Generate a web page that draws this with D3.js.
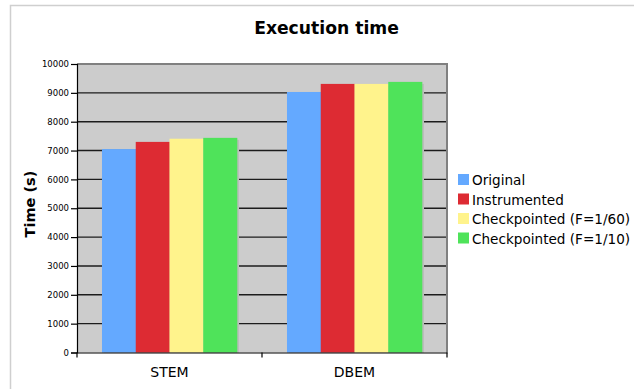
<!DOCTYPE html>
<html>
<head>
<meta charset="utf-8">
<script src="https://cdn.jsdelivr.net/npm/d3@7"></script>
<style>
  body { margin: 0; background: #fff; }
  svg { display: block; font-family: "DejaVu Sans", Verdana, sans-serif; }
</style>
</head>
<body>
<div id="chart"></div>
<script>
const categories = ['STEM', 'DBEM'];
const seriesNames = ['Original', 'Instrumented', 'Checkpointed (F=1/60)', 'Checkpointed (F=1/10)'];
const seriesColors = ['#64a9ff', '#dd2b33', '#fff38c', '#4fe35a'];
// values per series, in category order
const original = [7050, 9030];
const instrumented = [7300, 9310];
const checkpointed60 = [7410, 9310];
const checkpointed10 = [7440, 9380];
const yTicks = [0, 1000, 2000, 3000, 4000, 5000, 6000, 7000, 8000, 9000, 10000];

const seriesValues = [original, instrumented, checkpointed60, checkpointed10];

const width = 634;
const height = 389;
const marginTop = 64;
const marginRight = 187;
const marginBottom = 36.5;
const marginLeft = 77;

const svg = d3.select('#chart')
    .append('svg')
    .attr('width', width)
    .attr('height', height);

// outer chart frame (only top and left visible)
svg.append('path')
    .attr('d', `M10.5,${height} V5.5 H${width}`)
    .attr('fill', 'none')
    .attr('stroke', '#cfcfcf')
    .attr('stroke-width', 1.5);

// title
svg.append('text')
    .attr('x', 326.5)
    .attr('y', 34)
    .attr('text-anchor', 'middle')
    .attr('font-size', 17.2)
    .attr('font-weight', 'bold')
    .text('Execution time');

// scales
const x0 = d3.scaleBand()
    .domain(categories)
    .range([marginLeft, width - marginRight])
    .paddingInner(0)
    .paddingOuter(0);

const x1 = d3.scaleBand()
    .domain(seriesNames)
    .range([0, x0.bandwidth()])
    .paddingInner(0)
    .paddingOuter(0.74);

const y = d3.scaleLinear()
    .domain([0, 10000])
    .range([height - marginBottom, marginTop]);

// plot background
svg.append('rect')
    .attr('x', marginLeft)
    .attr('y', y(10000))
    .attr('width', x0.range()[1] - marginLeft)
    .attr('height', y(0) - y(10000))
    .attr('fill', '#cccccc');

// gridlines
svg.append('g')
    .selectAll('line')
    .data(yTicks.filter(d => d > 0 && d < 10000))
    .join('line')
    .attr('x1', marginLeft)
    .attr('x2', x0.range()[1])
    .attr('y1', d => y(d))
    .attr('y2', d => y(d))
    .attr('stroke', '#1c1c1c')
    .attr('stroke-width', 1.4);

// top / right border of plot area
svg.append('path')
    .attr('d', `M${marginLeft},${y(10000)} H${x0.range()[1]} V${y(0)}`)
    .attr('fill', 'none')
    .attr('stroke', '#808080')
    .attr('stroke-width', 2);

// bars
const groups = svg.append('g')
    .selectAll('g')
    .data(categories)
    .join('g')
    .attr('transform', d => `translate(${x0(d)},0)`);

const barData = (d, i) => seriesNames.map((name, k) => ({ name, value: seriesValues[k][i], color: seriesColors[k] }));

// soft shadow to the right of each bar
groups.selectAll('rect.shadow')
    .data(barData)
    .join('rect')
    .attr('class', 'shadow')
    .attr('x', d => x1(d.name) + 2)
    .attr('y', d => y(d.value) + 2)
    .attr('width', x1.bandwidth())
    .attr('height', d => y(0) - y(d.value) - 2)
    .attr('fill', '#bcbcbc');

groups.selectAll('rect.bar')
    .data(barData)
    .join('rect')
    .attr('class', 'bar')
    .attr('x', d => x1(d.name))
    .attr('y', d => y(d.value))
    .attr('width', x1.bandwidth() + 0.3)
    .attr('height', d => y(0) - y(d.value))
    .attr('fill', d => d.color);

// y axis
const yAxis = d3.axisLeft(y)
    .tickValues(yTicks)
    .tickSize(6)
    .tickPadding(2)
    .tickFormat(d3.format('d'));

const yg = svg.append('g')
    .attr('transform', `translate(${marginLeft},0)`)
    .call(yAxis);
yg.select('.domain').attr('stroke', '#000').attr('stroke-width', 1.2);
yg.selectAll('.tick line').attr('stroke', '#000').attr('stroke-width', 1.2);
yg.selectAll('.tick text')
    .attr('font-size', 8.5)
    .attr('font-family', '"DejaVu Sans", Verdana, sans-serif')
    .attr('fill', '#000');

// x axis
const xAxis = d3.axisBottom(x0)
    .tickSize(0)
    .tickPadding(15);

const xg = svg.append('g')
    .attr('transform', `translate(0,${y(0)})`)
    .call(xAxis);
xg.select('.domain').attr('stroke', '#000').attr('stroke-width', 1.2);
xg.selectAll('.tick text')
    .attr('font-size', 14)
    .attr('font-family', '"DejaVu Sans", Verdana, sans-serif')
    .attr('fill', '#000');

// category boundary ticks
const bounds = categories.map(c => x0(c)).concat([x0.range()[1]]);
xg.selectAll('line.bound')
    .data(bounds)
    .join('line')
    .attr('class', 'bound')
    .attr('x1', d => d)
    .attr('x2', d => d)
    .attr('y1', 0)
    .attr('y2', 5)
    .attr('stroke', '#000')
    .attr('stroke-width', 1.2);

// y axis title
svg.append('text')
    .attr('transform', `translate(35,204) rotate(-90)`)
    .attr('text-anchor', 'middle')
    .attr('font-size', 14.5)
    .attr('font-weight', 'bold')
    .text('Time (s)');

// legend
const legend = svg.append('g')
    .attr('transform', 'translate(458,174)');

const items = legend.selectAll('g')
    .data(seriesNames)
    .join('g')
    .attr('transform', (d, i) => `translate(0,${i * 19.5})`);

items.append('rect')
    .attr('width', 11)
    .attr('height', 11)
    .attr('fill', (d, i) => seriesColors[i]);

items.append('text')
    .attr('x', 14)
    .attr('y', 11)
    .attr('font-size', 13.6)
    .text(d => d);
</script>
</body>
</html>
